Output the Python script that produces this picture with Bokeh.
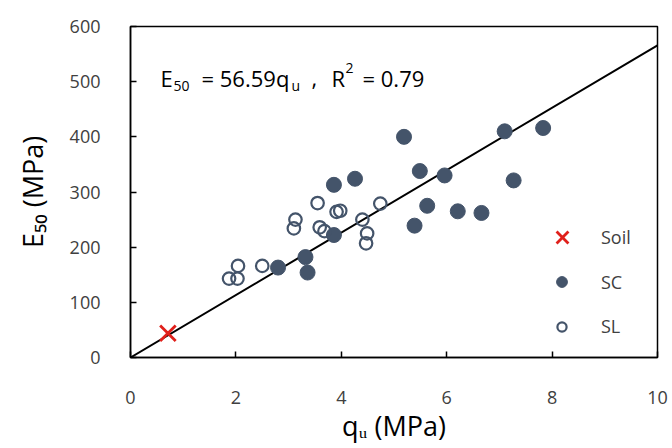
from bokeh.plotting import figure
from bokeh.models import Label, Legend, LegendItem, FixedTicker
from bokeh.embed import file_html
from bokeh.resources import INLINE

# ---- data ----
sc_qu = [2.80, 3.32, 3.36, 3.86, 3.86, 4.26, 5.19, 5.49, 5.96, 5.63, 5.39, 6.21, 6.66, 7.10, 7.83, 7.27]
sc_e50 = [163, 182, 154, 222, 313, 324, 400, 338, 330, 275, 239, 265, 262, 410, 416, 321]
sl_qu = [1.87, 2.03, 2.04, 2.50, 3.13, 3.10, 3.55, 3.59, 3.68, 3.91, 3.98, 4.40, 4.49, 4.47, 4.74]
sl_e50 = [143, 143, 166, 166, 250, 234, 280, 236, 229, 264, 266, 250, 225, 207, 279]
soil_qu = [0.71]
soil_e50 = [44]
slope = 56.59
r2 = 0.79
fit_qu = [0, 10]
x_ticks = [0, 2, 4, 6, 8, 10]
y_ticks = [0, 100, 200, 300, 400, 500, 600]
series_names = ["Soil", "SC", "SL"]
x_title = "q\u1d64 (MPa)"
y_title = "E\u2085\u2080 (MPa)"

SLATE = "#44546A"
RED = "#E0201B"
FONT = "Open Sans"

p = figure(width=672, height=448, x_range=(0, 10), y_range=(0, 600),
           output_backend="svg", toolbar_location=None,
           min_border_left=130, min_border_right=15,
           min_border_top=26, min_border_bottom=91)
p.grid.visible = False
p.background_fill_color = "white"
p.border_fill_color = "white"
p.outline_line_color = "black"
p.outline_line_width = 1.5
p.outline_line_alpha = 1.0

for ax in (p.xaxis[0], p.yaxis[0]):
    ax.axis_line_width = 1.5
    ax.axis_line_color = "black"
    ax.major_tick_in = 6
    ax.major_tick_out = 0
    ax.major_tick_line_width = 1.5
    ax.major_tick_line_color = "black"
    ax.minor_tick_line_color = None
    ax.major_label_text_font = FONT
    ax.major_label_text_font_size = "18px"
    ax.major_label_text_color = "#404040"
    ax.axis_label_text_font = FONT
    ax.axis_label_text_font_size = "27px"
    ax.axis_label_text_font_style = "normal"
    ax.axis_label_text_color = "black"

p.xaxis.ticker = FixedTicker(ticks=x_ticks)
p.yaxis.ticker = FixedTicker(ticks=y_ticks)
p.xaxis.major_label_standoff = 33
p.yaxis.major_label_standoff = 30
p.xaxis.axis_label = x_title
p.yaxis.axis_label = y_title
p.xaxis.axis_label_standoff = 0
p.yaxis.axis_label_standoff = 16

fit_e50 = [slope * q for q in fit_qu]
p.line(fit_qu, fit_e50, line_color="black", line_width=2)

r_soil = p.scatter(soil_qu, soil_e50, marker="x", size=22, line_color=RED, line_width=2.8)
r_sc = p.scatter(sc_qu, sc_e50, marker="circle", size=15, fill_color=SLATE, line_color=SLATE)
r_sl = p.scatter(sl_qu, sl_e50, marker="circle", size=12.5, fill_color=None,
                 line_color=SLATE, line_width=2.2)


def add_legend(name, renderer, glyph, loc, standoff):
    p.add_layout(Legend(items=[LegendItem(label=name, renderers=[renderer])],
                        location=loc, orientation="vertical",
                        glyph_width=glyph, glyph_height=glyph, padding=0, margin=0,
                        label_standoff=standoff, border_line_color=None,
                        background_fill_alpha=0, label_text_font=FONT,
                        label_text_font_size="18px", label_text_color="#404040"))


add_legend(series_names[0], r_soil, 42, (411, 99), 18)
add_legend(series_names[1], r_sc, 27, (418, 62), 26)
add_legend(series_names[2], r_sl, 23, (420, 19), 28)

# screen helpers (frame-relative)
FL, FB = 130, 357


def lab(text, px, py, size, color="black"):
    p.add_layout(Label(x=px - FL, y=FB - py, x_units="screen", y_units="screen",
                       text=text, text_font=FONT,
                       text_font_size=f"{size}px", text_color=color,
                       text_align="left", text_baseline="alphabetic"))


# equation
lab("E", 160, 77, 22)
lab("50", 173, 85, 14)
lab(f"= {slope:.2f}q", 201, 77, 22)
lab("u", 291, 85, 14)
lab(",", 311, 77, 22)
lab("R", 331, 77, 22)
lab("2", 345, 67, 14)
lab(f"= {r2:.2f}", 362, 77, 22)

open("out.html", "w").write(file_html(p, INLINE))
